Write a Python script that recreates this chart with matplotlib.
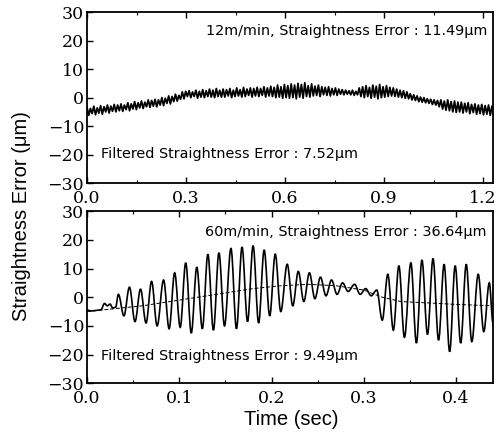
import matplotlib
matplotlib.use("Agg")
import matplotlib.pyplot as plt
import numpy as np
from matplotlib.path import Path
from matplotlib.patches import PathPatch
from matplotlib.ticker import MultipleLocator, FormatStrFormatter

# top panel: 12 m/min, raw signal sampled uniformly over 0..1.232 s
top_err = [
    -3.4, -6.2, -3.8, -5.6, -3.0, -6.0, -3.6, -5.4, -2.8, -5.8, -3.2, -5.0, -2.6, -5.4, -3.0, -4.8, -2.4, -5.0, -2.6, -4.6,
    -2.2, -4.8, -2.6, -4.2, -1.8, -4.6, -2.2, -4.0, -1.4, -4.2, -1.8, -3.6, -1.2, -3.8, -1.6, -3.2, -0.8, -3.4, -1.0, -3.0,
    -0.6, -3.2, -0.8, -2.6, 0.0, -2.8, -0.2, -2.0, 0.6, -2.2, 0.4, -1.4, 1.2, -1.2, 0.8, -0.6, 2.0, -0.4, 2.2, 0.4,
    2.4, 0.0, 2.0, 0.4, 2.6, -0.2, 2.2, 0.2, 2.8, 0.0, 2.4, 0.4, 3.0, 0.2, 2.6, 0.0, 3.2, 0.4, 2.6, 0.2,
    3.0, 0.2, 2.8, 0.6, 3.2, 0.0, 2.6, 0.4, 3.4, 0.6, 2.8, 0.2, 3.6, 0.4, 3.0, 0.8, 3.4, 0.2, 3.2, 0.6,
    3.6, 0.4, 3.2, 0.8, 3.8, 0.2, 3.4, 0.6, 4.0, 0.4, 3.6, 0.0, 4.4, 0.2, 3.8, -0.2, 4.6, 0.0, 4.2, -0.2,
    4.8, 0.0, 4.4, -0.4, 5.0, 0.2, 4.6, -0.2, 5.2, 0.4, 4.2, 0.2, 4.8, 0.6, 4.0, 0.8, 4.4, 0.4, 3.8, 1.0,
    3.6, 0.8, 3.8, 0.6, 3.2, 1.0, 3.4, 0.8, 3.0, 1.2, 2.8, 1.0, 2.6, 1.2, 2.4, 1.0, 2.6, 0.8, 2.2, 1.0,
    3.4, 0.4, 3.8, 0.0, 4.2, 0.4, 3.6, -0.2, 4.4, 0.2, 4.0, -0.4, 4.6, 0.0, 3.8, 0.2, 4.2, 0.4, 3.6, 0.6,
    3.4, 0.4, 3.0, 0.2, 2.6, 0.0, 2.4, -0.2, 2.0, -0.4, 1.4, -0.8, 1.0, -1.0, 0.6, -1.4, 0.2, -1.6, 0.0, -1.8,
    -0.4, -2.0, -0.6, -2.4, -0.8, -2.6, -1.0, -3.2, -0.8, -4.0, -1.2, -4.4, -0.8, -4.6, -1.4, -5.0, -1.2, -5.2, -1.6, -5.0,
    -1.6, -5.4, -2.0, -5.0, -1.8, -5.6, -2.4, -5.2, -2.2, -5.8, -2.6, -5.6, -2.4, -6.0, -2.8, -5.8, -2.6, -6.2, -3.0, -6.0,
]
top_time = np.linspace(0, 1.232, len(top_err))

# bottom panel: 60 m/min, peaks and troughs
bot_time = [0.0, 0.005, 0.010, 0.015, 0.019, 0.022, 0.025, 0.028, 0.031,
            0.034, 0.040, 0.046, 0.052, 0.058, 0.064, 0.070, 0.076, 0.083, 0.089,
            0.095, 0.101, 0.107, 0.113, 0.119, 0.125, 0.131, 0.137, 0.143, 0.149,
            0.156, 0.162, 0.168, 0.174, 0.180, 0.186, 0.192, 0.198, 0.204, 0.210,
            0.217, 0.223, 0.229, 0.235, 0.241, 0.247, 0.253, 0.259, 0.265, 0.271,
            0.277, 0.283, 0.290, 0.296, 0.302, 0.308, 0.314, 0.320, 0.326, 0.332,
            0.338, 0.344, 0.351, 0.357, 0.363, 0.369, 0.375, 0.381, 0.387, 0.393,
            0.399, 0.405, 0.411, 0.417, 0.424, 0.430, 0.436, 0.440]
bot_err = [-4.5, -4.8, -4.6, -4.4, -2.2, -3.0, -2.4, -3.8, -3.5,
           1.0, -6.5, 3.5, -8.5, 2.8, -9.0, 5.5, -10.0, 6.0, -11.0,
           8.5, -10.5, 12.0, -12.5, 10.5, -11.0, 15.0, -11.5, 15.5, -10.0,
           17.0, -11.0, 17.5, -8.5, 18.0, -9.0, 16.5, -6.5, 15.0, -5.0,
           11.5, -3.0, 9.0, -1.5, 8.5, -0.5, 7.0, 0.5, 6.0, 1.0,
           5.0, 2.0, 4.5, 1.0, 3.0, 0.5, 2.5, -8.0, 8.0, -11.5,
           11.0, -14.0, 12.0, -16.0, 13.0, -13.0, 13.5, -15.0, 11.5, -19.0,
           11.0, -16.0, 11.5, -15.5, 8.0, -12.0, 5.0, -9.0]

filt_time = [0.0, 0.03, 0.06, 0.09, 0.12, 0.15, 0.18, 0.21, 0.24, 0.27, 0.30, 0.32, 0.34, 0.37, 0.40, 0.44]
filt_err = [-5.0, -4.0, -3.0, -1.5, 0.0, 1.5, 3.0, 4.0, 4.5, 4.0, 2.5, 0.0, -1.5, -2.0, -2.5, -3.0]

serif = "DejaVu Serif"
sans = "DejaVu Sans"
label_font = "Liberation Sans"


def smooth_path(xs, ys, k=0.36):
    # cubic segments with flat tangents at each peak/trough
    verts = [(xs[0], ys[0])]
    codes = [Path.MOVETO]
    for i in range(1, len(xs)):
        dx = xs[i] - xs[i - 1]
        verts += [(xs[i - 1] + k * dx, ys[i - 1]), (xs[i] - k * dx, ys[i]), (xs[i], ys[i])]
        codes += [Path.CURVE4] * 3
    return Path(verts, codes)


fig = plt.figure(figsize=(5.0, 4.32), dpi=100)
ax1 = fig.add_axes([0.174, 0.576, 0.812, 0.396])
ax2 = fig.add_axes([0.174, 0.113, 0.812, 0.398])

ax1.plot(top_time, top_err, color="black", lw=1.3)
ax2.add_patch(PathPatch(smooth_path(bot_time, bot_err), fill=False, ec="black", lw=1.2))
ax2.plot(filt_time, filt_err, color="black", lw=0.7, ls=(0, (4, 2)))

ax1.set_xlim(0, 1.23)
ax2.set_xlim(0, 0.44)
ax1.xaxis.set_major_locator(MultipleLocator(0.3))
ax1.xaxis.set_minor_locator(MultipleLocator(0.15))
ax2.xaxis.set_major_locator(MultipleLocator(0.1))
ax2.xaxis.set_minor_locator(MultipleLocator(0.05))

for ax in (ax1, ax2):
    ax.set_ylim(-30, 30)
    ax.yaxis.set_major_locator(MultipleLocator(10))
    ax.tick_params(which="both", direction="in", top=True, right=False)
    ax.tick_params(which="major", length=4, width=1.0, labelsize=12.5, pad=2)
    ax.tick_params(axis="x", which="major", pad=5)
    ax.tick_params(which="minor", length=2, width=0.8)
    for s in ax.spines.values():
        s.set_linewidth(1.3)
    for lab in ax.get_xticklabels() + ax.get_yticklabels():
        lab.set_fontfamily(serif)
    ax.xaxis.set_major_formatter(FormatStrFormatter("%.1f"))

fs = 10.4
ax1.text(0.985, 0.89, "12m/min, Straightness Error : 11.49\u03bcm", transform=ax1.transAxes,
         ha="right", va="center", fontsize=fs, family=sans)
ax1.text(0.035, 0.17, "Filtered Straightness Error : 7.52\u03bcm", transform=ax1.transAxes,
         ha="left", va="center", fontsize=fs, family=sans)
ax2.text(0.985, 0.88, "60m/min, Straightness Error : 36.64\u03bcm", transform=ax2.transAxes,
         ha="right", va="center", fontsize=fs, family=sans)
ax2.text(0.035, 0.16, "Filtered Straightness Error : 9.49\u03bcm", transform=ax2.transAxes,
         ha="left", va="center", fontsize=fs, family=sans)

fig.text(0.044, 0.50, "Straightness Error (\u03bcm)", rotation=90, ha="center", va="center",
         fontsize=14.5, family=label_font)
fig.text(0.582, 0.028, "Time (sec)", ha="center", va="center", fontsize=14.5, family=label_font)

fig.savefig("out.png", dpi=100)
